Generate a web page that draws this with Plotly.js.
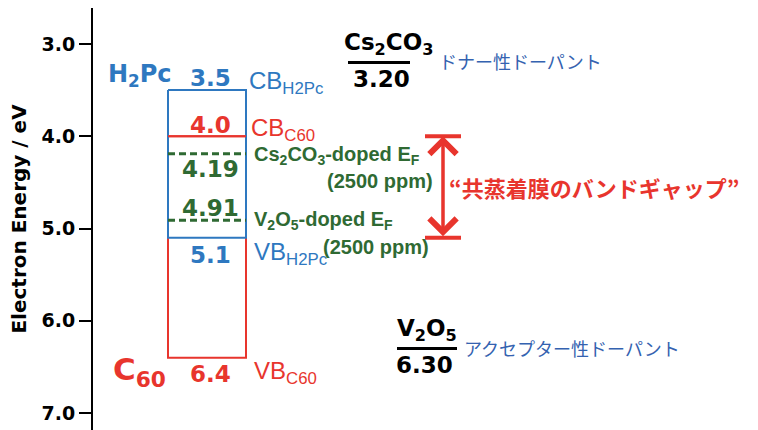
<!DOCTYPE html>
<html>
<head>
<meta charset="utf-8">
<script src="https://cdn.plot.ly/plotly-3.0.1.min.js"></script>
<style>
  html, body { margin: 0; padding: 0; background: #ffffff; }
  #chart { width: 758px; height: 430px; }
</style>
</head>
<body>
<div id="chart"></div>
<script>
// Energy axis ticks
const energyTicks = [3, 4, 5, 6, 7];
const tickLabels = ['3.0', '4.0', '5.0', '6.0', '7.0'];

// Band levels (eV): [conduction band, valence band]
const h2pcBands = [3.5, 5.1];
const c60Bands = [4.0, 6.4];

// Fermi levels of the doped co-deposited film (eV): [Cs2CO3, V2O5]
const dopedFermi = [4.19, 4.91];
const dopantNames = ['Cs<sub>2</sub>CO<sub>3</sub>', 'V<sub>2</sub>O<sub>5</sub>'];
const dopingLevel = ['2500 ppm', '2500 ppm'];

// Work functions of the dopants (eV): [Cs2CO3, V2O5]
const dopantWF = [3.20, 6.30];
const dopantRoles = ['ドナー性ドーパント', 'アクセプター性ドーパント'];

// Band gap of the blend (C60 CB to H2Pc VB)
const gapTitle = '“共蒸着膜のバンドギャップ”';

// ---- styling ----
const BLUE = '#2e78c0';
const RED = '#e8352d';
const GREEN = '#2f6a33';
const JBLUE = '#3462b0';
const NUM = 'DejaVu Sans';
const SANS = 'Liberation Sans, Arial, sans-serif';
const JP = 'Noto Sans CJK JP';

// horizontal layout positions (x axis is a plain position scale)
const boxL = 168, boxR = 246, boxMid = 210;
const labelX = 252;
const gapX = 443, gapHalf = 18;

const rectX = [boxL, boxL, boxR, boxR, boxL];
function rectY(b) { return [b[0], b[1], b[1], b[0], b[0]]; }

const traces = [
  { // C60 band box
    x: rectX, y: rectY(c60Bands), mode: 'lines',
    line: { color: RED, width: 2 }, hoverinfo: 'skip'
  },
  { // H2Pc band box
    x: rectX, y: rectY(h2pcBands), mode: 'lines',
    line: { color: BLUE, width: 2 }, hoverinfo: 'skip'
  },
  { // C60 conduction band edge inside the box
    x: [boxL, boxR], y: [c60Bands[0], c60Bands[0]], mode: 'lines',
    line: { color: RED, width: 2 }, hoverinfo: 'skip'
  }
];

// dashed Fermi levels
dopedFermi.forEach(v => traces.push({
  x: [boxL, boxR], y: [v, v], mode: 'lines',
  line: { color: GREEN, width: 3, dash: '7px,4px' }, hoverinfo: 'skip'
}));

// band gap bars
[c60Bands[0], h2pcBands[1]].forEach(v => traces.push({
  x: [gapX - gapHalf, gapX + gapHalf], y: [v, v], mode: 'lines',
  line: { color: RED, width: 4 }, hoverinfo: 'skip'
}));

// fraction bars for the dopant work functions
const wfX = [[348, 410], [397, 457]];
dopantWF.forEach((v, i) => traces.push({
  x: wfX[i], y: [v, v], mode: 'lines',
  line: { color: '#000000', width: 3 }, hoverinfo: 'skip'
}));

const ann = [];
function txt(o) {
  ann.push(Object.assign({ showarrow: false, xref: 'x', yref: 'y' }, o));
}

// level values
txt({ x: boxMid, y: h2pcBands[0], yshift: 12, text: h2pcBands[0].toFixed(1),
      font: { family: NUM, size: 23, color: BLUE, weight: 'bold' } });
txt({ x: boxMid, y: c60Bands[0], yshift: 11, text: c60Bands[0].toFixed(1),
      font: { family: NUM, size: 23, color: RED, weight: 'bold' } });
txt({ x: boxMid, y: dopedFermi[0], yshift: -15, text: dopedFermi[0].toFixed(2),
      font: { family: NUM, size: 23, color: GREEN, weight: 'bold' } });
txt({ x: boxMid, y: dopedFermi[1], yshift: 12, text: dopedFermi[1].toFixed(2),
      font: { family: NUM, size: 23, color: GREEN, weight: 'bold' } });
txt({ x: boxMid, y: h2pcBands[1], yshift: -17, text: h2pcBands[1].toFixed(1),
      font: { family: NUM, size: 23, color: BLUE, weight: 'bold' } });
txt({ x: boxMid, y: c60Bands[1], yshift: -16, text: c60Bands[1].toFixed(1),
      font: { family: NUM, size: 23, color: RED, weight: 'bold' } });

// material names
txt({ x: 106, y: h2pcBands[0], yshift: 15, xanchor: 'left', text: 'H<sub>2</sub>Pc',
      font: { family: NUM, size: 24, color: BLUE, weight: 'bold' } });
txt({ x: 111, y: c60Bands[1], yshift: -14, xanchor: 'left', text: 'C<sub>60</sub>',
      font: { family: NUM, size: 31, color: RED, weight: 'bold' } });

// band labels
txt({ x: labelX - 5, y: h2pcBands[0], yshift: 8, xanchor: 'left', text: 'CB<sub>H2Pc</sub>',
      font: { family: SANS, size: 24, color: BLUE } });
txt({ x: labelX - 3, y: c60Bands[0], yshift: 7, xanchor: 'left', text: 'CB<sub>C60</sub>',
      font: { family: SANS, size: 24, color: RED } });
txt({ x: labelX, y: h2pcBands[1], yshift: -16, xanchor: 'left', text: 'VB<sub>H2Pc</sub>',
      font: { family: SANS, size: 24, color: BLUE } });
txt({ x: labelX, y: c60Bands[1], yshift: -15, xanchor: 'left', text: 'VB<sub>C60</sub>',
      font: { family: SANS, size: 24, color: RED } });

// doped Fermi level labels
txt({ x: labelX, y: dopedFermi[0], yshift: -2, xanchor: 'left',
      text: '<b>' + dopantNames[0] + '-doped E<sub>F</sub></b>',
      font: { family: SANS, size: 20, color: GREEN } });
txt({ x: 325, y: dopedFermi[0], yshift: -27, xanchor: 'left',
      text: '<b>(' + dopingLevel[0] + ')</b>',
      font: { family: SANS, size: 20, color: GREEN } });
txt({ x: labelX, y: dopedFermi[1], yshift: 0, xanchor: 'left',
      text: '<b>' + dopantNames[1] + '-doped E<sub>F</sub></b>',
      font: { family: SANS, size: 20, color: GREEN } });
txt({ x: 321, y: dopedFermi[1], yshift: -27, xanchor: 'left',
      text: '<b>(' + dopingLevel[1] + ')</b>',
      font: { family: SANS, size: 20, color: GREEN } });

// dopant work functions as name over value
txt({ x: 388, y: dopantWF[0], yshift: 1, yanchor: 'bottom', text: dopantNames[0],
      font: { family: NUM, size: 23, color: '#000000', weight: 'bold' } });
txt({ x: 381, y: dopantWF[0], yshift: -2, yanchor: 'top', text: dopantWF[0].toFixed(2),
      font: { family: NUM, size: 23, color: '#000000', weight: 'bold' } });
txt({ x: 427, y: dopantWF[1], yshift: 1, yanchor: 'bottom', text: dopantNames[1],
      font: { family: NUM, size: 23, color: '#000000', weight: 'bold' } });
txt({ x: 424, y: dopantWF[1], yshift: -2, yanchor: 'top', text: dopantWF[1].toFixed(2),
      font: { family: NUM, size: 23, color: '#000000', weight: 'bold' } });

txt({ x: 437, y: dopantWF[0], yshift: 1, xanchor: 'left', text: dopantRoles[0],
      font: { family: JP, size: 18, color: JBLUE } });
txt({ x: 462, y: dopantWF[1], yshift: 0, xanchor: 'left', text: dopantRoles[1],
      font: { family: JP, size: 18, color: JBLUE } });

// band gap arrow and caption
ann.push({
  x: gapX, y: c60Bands[0], ax: gapX, ay: h2pcBands[1],
  xref: 'x', yref: 'y', axref: 'x', ayref: 'y',
  text: '', showarrow: true, arrowside: 'end+start',
  arrowhead: 4, startarrowhead: 4, arrowsize: 1.5, startarrowsize: 1.5,
  arrowwidth: 3.5, arrowcolor: RED, standoff: 0, startstandoff: 0
});
txt({ x: 447, y: (c60Bands[0] + h2pcBands[1]) / 2, xanchor: 'left', text: gapTitle,
      font: { family: JP, size: 22, color: RED, weight: 'bold' } });

const layout = {
  width: 758, height: 430,
  margin: { l: 93, r: 0, t: 8, b: 0 },
  paper_bgcolor: '#ffffff', plot_bgcolor: '#ffffff',
  showlegend: false,
  xaxis: { range: [93, 758], visible: false, fixedrange: true },
  yaxis: {
    range: [7.184, 2.61],
    tickvals: energyTicks, ticktext: tickLabels,
    ticks: 'outside', ticklen: 12, tickwidth: 2, tickcolor: '#000000',
    showline: true, linecolor: '#000000', linewidth: 2,
    showgrid: false, zeroline: false,
    tickfont: { family: NUM, size: 19, color: '#000000', weight: 'bold' },
    ticklabelstandoff: 0,
    title: { text: 'Electron Energy / eV', standoff: 10,
             font: { family: NUM, size: 20, color: '#000000', weight: 'bold' } },
    fixedrange: true
  },
  annotations: ann
};

Plotly.newPlot('chart', traces, layout, { displayModeBar: false, staticPlot: true });
</script>
</body>
</html>
